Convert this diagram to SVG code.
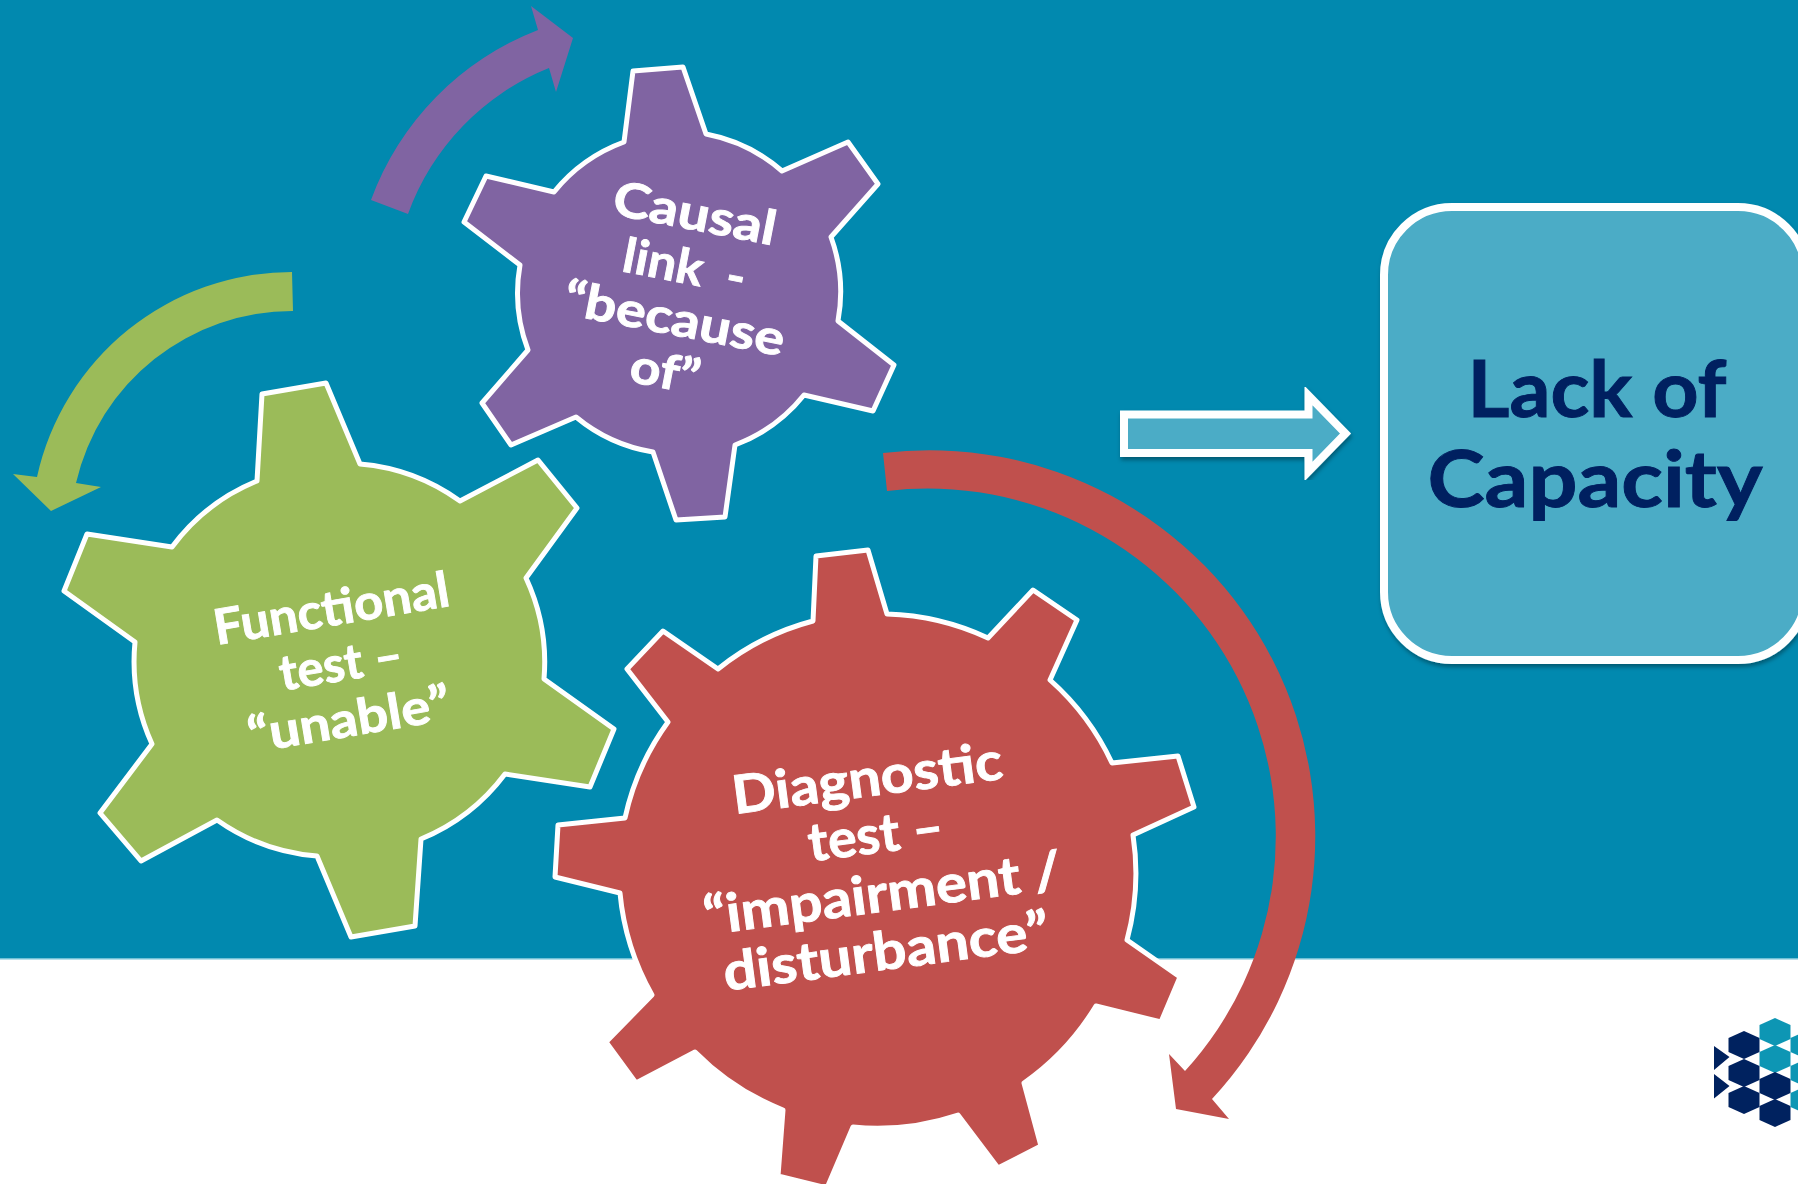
<svg xmlns="http://www.w3.org/2000/svg" width="1798" height="1184" viewBox="0 0 1798 1184">
<style>
.gear{stroke:#fff;stroke-width:5;stroke-linejoin:round}
.lbl{font-family:"Lato","Open Sans",sans-serif;font-weight:700;fill:#fff;stroke:#fff;stroke-width:.9;text-anchor:middle}
.cap{font-family:"Lato","Open Sans",sans-serif;font-weight:700;fill:#002060;stroke:#002060;stroke-width:.9;text-anchor:middle;font-size:78px}
.navy{fill:#04205f}.teal{fill:#0f96b4}
</style>
<defs>
<filter id="sh" x="-10%" y="-10%" width="120%" height="120%"><feDropShadow dx="1" dy="3" stdDeviation="2" flood-color="#000" flood-opacity=".35"/></filter>
<filter id="soft" x="-5%" y="-5%" width="110%" height="110%"><feGaussianBlur stdDeviation=".5"/></filter>
<path id="hex" d="M0,-14 L15.5,-7 L15.5,7 L0,14 L-15.5,7 L-15.5,-7 Z"/>
</defs>
<rect id="background" width="1798" height="1184" fill="#fff"/>
<rect id="band" width="1798" height="958" fill="#0189af"/>
<rect id="band-edge" y="958" width="1798" height="1.5" fill="#6fc0d6"/>
<g id="connectors">
<path id="arrow-purple" fill="#8064a2" d="M371,200 A288 288 0 0 1 538,30 L531,6 L573,38 L556,92 L549,68 A248 248 0 0 0 408,214 Z"/>
<path id="arrow-green" fill="#9bbb59" d="M292,272 A261 261 0 0 0 37,477 L13,474 L51,511 L101,487 L76,483 A222 222 0 0 1 293,311 Z"/>
<path id="arrow-red" fill="#c0504d" d="M883,453 A386 386 0 0 1 1212,1099 L1229,1119 L1176,1109 L1169,1054 L1185,1071 A348 348 0 0 0 887,491 Z"/>
<path id="arrow-block" fill="#4bacc6" stroke="#fff" stroke-width="8" filter="url(#sh)" d="M1124,414.5 L1308.5,414.5 L1308.5,395.5 L1345.5,433.5 L1308.5,471.5 L1308.5,453 L1124,453 Z"/>
</g>
<g id="gear-causal">
<path class="gear" fill="#8064a2" d="M633,71 L683,67 L706,134 A161 161 0 0 1 782,171 L848,142 L878,184 L831,237 A161 161 0 0 1 838,321 L894,365 L873,411 L804,395 A161 161 0 0 1 735,445 L725,517 L676,520 L653,452 A161 161 0 0 1 576,417 L511,445 L482,403 L528,350 A161 161 0 0 1 520,265 L464,222 L486,176 L554,192 A161 161 0 0 1 624,142 Z"/>
<g transform="rotate(11 677 290)" class="lbl" font-size="48">
<text x="680" y="228" textLength="165" lengthAdjust="spacingAndGlyphs">Causal</text>
<text x="680" y="282" xml:space="preserve" textLength="124" lengthAdjust="spacingAndGlyphs">link&#160;&#160;-</text>
<text x="680" y="335" textLength="224" lengthAdjust="spacingAndGlyphs">“because</text>
<text x="681" y="389" textLength="70" lengthAdjust="spacingAndGlyphs">of”</text>
</g>
</g>
<g id="gear-functional">
<path class="gear" fill="#9bbb59" d="M262,394 L326,383 L360,464 A200 200 0 0 1 460,501 L538,460 L577,508 L526,578 A200 200 0 0 1 544,679 L614,729 L590,787 L505,774 A200 200 0 0 1 421,839 L415,926 L351,937 L317,856 A200 200 0 0 1 217,820 L141,861 L100,813 L152,744 A200 200 0 0 1 135,642 L64,591 L87,534 L172,547 A200 200 0 0 1 257,481 Z"/>
<g transform="rotate(-9.5 339 660)" class="lbl" font-size="49">
<text x="340" y="625" textLength="238" lengthAdjust="spacingAndGlyphs">Functional</text>
<text x="340" y="681" textLength="124" lengthAdjust="spacingAndGlyphs">test –</text>
<text x="339" y="737" textLength="204" lengthAdjust="spacingAndGlyphs">“unable”</text>
</g>
</g>
<g id="gear-diagnostic">
<path class="gear" fill="#c0504d" d="M816,556 L868,550 L887,614 A255 255 0 0 1 988,638 L1033,590 L1077,620 L1050,680 A255 255 0 0 1 1112,763 L1178,756 L1194,807 L1133,835 A255 255 0 0 1 1127,940 L1180,977 L1161,1022 L1096,1006 A255 255 0 0 1 1024,1083 L1041,1146 L998,1168 L958,1115 A255 255 0 0 1 853,1127 L827,1188 L778,1176 L783,1110 A255 255 0 0 1 695,1052 L636,1083 L606,1042 L652,995 A255 255 0 0 1 620,893 L555,877 L558,825 L625,818 A255 255 0 0 1 668,722 L627,669 L663,631 L718,669 A255 255 0 0 1 813,621 Z"/>
<g transform="rotate(-7.5 877 868)" class="lbl" font-size="53">
<text x="879" y="796" textLength="272" lengthAdjust="spacingAndGlyphs">Diagnostic</text>
<text x="880" y="853" textLength="136" lengthAdjust="spacingAndGlyphs">test –</text>
<text x="879" y="912" textLength="360" lengthAdjust="spacingAndGlyphs">“impairment /</text>
<text x="875" y="970" textLength="328" lengthAdjust="spacingAndGlyphs">disturbance”</text>
</g>
</g>
<g id="box-lack-of-capacity">
<rect x="1384" y="207" width="422" height="453" rx="68" ry="68" fill="#4bacc6" stroke="#fff" stroke-width="8" filter="url(#sh)"/>
<text class="cap" x="1597" y="417" textLength="259" lengthAdjust="spacingAndGlyphs">Lack of</text>
<text class="cap" x="1595" y="507" textLength="335" lengthAdjust="spacingAndGlyphs">Capacity</text>
</g>
<g id="logo" filter="url(#soft)">
<path class="navy" d="M1714,1046 L1729.5,1057 L1714,1070 Z M1714,1074 L1729.5,1086 L1714,1098.5 Z"/>
<use href="#hex" class="navy" x="1744" y="1045"/>
<use href="#hex" class="navy" x="1744" y="1073"/>
<use href="#hex" class="navy" x="1744" y="1100"/>
<use href="#hex" class="teal" x="1775" y="1032"/>
<use href="#hex" class="teal" x="1775" y="1059"/>
<use href="#hex" class="navy" x="1775" y="1086"/>
<use href="#hex" class="navy" x="1775" y="1113"/>
<use href="#hex" class="teal" x="1806" y="1045"/>
<use href="#hex" class="teal" x="1806" y="1073"/>
<use href="#hex" class="teal" x="1806" y="1100"/>
</g>
</svg>
